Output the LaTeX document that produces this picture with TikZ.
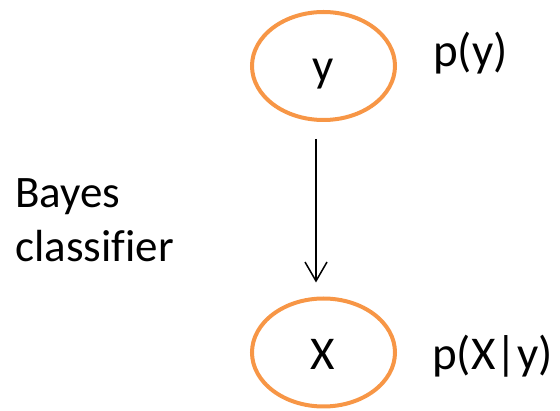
\documentclass[tikz,border=0pt]{standalone}
\usepackage{fontspec}
\setmainfont{Carlito}[Ligatures=NoCommon]
\usetikzlibrary{shapes.geometric,arrows.meta}
\definecolor{orng}{HTML}{F79646}
\tikzset{
  varnode/.style={draw=orng, line width=4pt, ellipse, minimum width=143pt, minimum height=108pt, inner sep=0pt},
  bigtext/.style={font=\fontsize{47}{56}\selectfont, anchor=base, inner sep=0pt},
  sidetext/.style={font=\fontsize{45}{54}\selectfont, anchor=base west, inner sep=0pt},
  arr/.style={line width=1.5pt, -{Straight Barb[length=19pt,width=22pt]}}
}
\begin{document}
\begin{tikzpicture}[x=1pt,y=-1pt]
\useasboundingbox (0,0) rectangle (560,411);
\node[varnode] (top) at (323.5,66) {};
\node[varnode] (bot) at (323.5,352.5) {};
\node[bigtext] (ylab) at (323,82) {y};
\node[bigtext] (xlab) at (323,370) {X};
\node[bigtext, anchor=base west] (py) at (433,67) {p(y)};
\node[bigtext, anchor=base west] (pxy) at (432,370) {p(X|y)};
\node[sidetext] (bayes) at (15,208) {Bayes};
\node[sidetext] (clf) at (15,262) {classifier};
\draw[arr] ([xshift=-7.5pt,yshift=-17pt]top.south) -- ([xshift=-7.5pt,yshift=14pt]bot.north);
\end{tikzpicture}
\end{document}
